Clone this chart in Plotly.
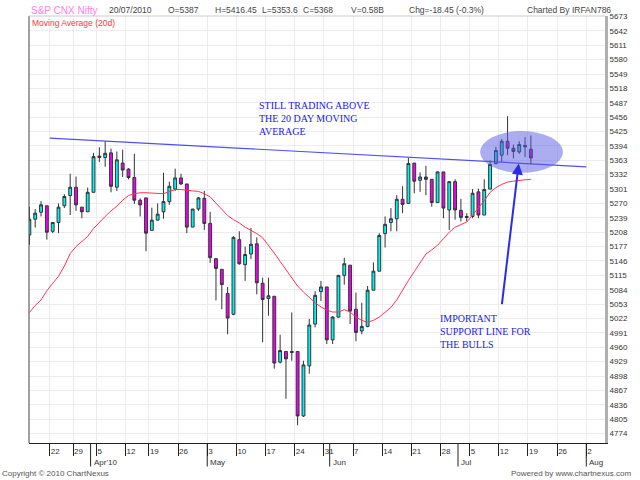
import plotly.graph_objects as go

# --- data (S&P CNX Nifty, daily) ---
dates = [
    "2010-03-17", "2010-03-18", "2010-03-19", "2010-03-22", "2010-03-23", "2010-03-25",
    "2010-03-26", "2010-03-29", "2010-03-30", "2010-03-31", "2010-04-01", "2010-04-05",
    "2010-04-06", "2010-04-07", "2010-04-08", "2010-04-09", "2010-04-12", "2010-04-13",
    "2010-04-15", "2010-04-16", "2010-04-19", "2010-04-20", "2010-04-21", "2010-04-22",
    "2010-04-23", "2010-04-26", "2010-04-27", "2010-04-28", "2010-04-29", "2010-04-30",
    "2010-05-03", "2010-05-04", "2010-05-05", "2010-05-06", "2010-05-07", "2010-05-10",
    "2010-05-11", "2010-05-12", "2010-05-13", "2010-05-14", "2010-05-17", "2010-05-18",
    "2010-05-19", "2010-05-20", "2010-05-21", "2010-05-24", "2010-05-25", "2010-05-26",
    "2010-05-27", "2010-05-28", "2010-05-31", "2010-06-01", "2010-06-02", "2010-06-03",
    "2010-06-04", "2010-06-07", "2010-06-08", "2010-06-09", "2010-06-10", "2010-06-11",
    "2010-06-14", "2010-06-15", "2010-06-16", "2010-06-17", "2010-06-18", "2010-06-21",
    "2010-06-22", "2010-06-23", "2010-06-24", "2010-06-25", "2010-06-28", "2010-06-29",
    "2010-06-30", "2010-07-01", "2010-07-02", "2010-07-05", "2010-07-06", "2010-07-07",
    "2010-07-08", "2010-07-09", "2010-07-12", "2010-07-13", "2010-07-14", "2010-07-15",
    "2010-07-16", "2010-07-19", "2010-07-20",
]
opens = [
    5202, 5236, 5251, 5265, 5210, 5229, 5265, 5287, 5305, 5262, 5252, 5294,
    5372, 5369, 5379, 5305, 5357, 5344, 5326, 5277, 5282, 5212, 5234, 5252,
    5274, 5301, 5325, 5312, 5219, 5258, 5281, 5227, 5151, 5128, 5076, 5031,
    5192, 5138, 5161, 5183, 5098, 5065, 5070, 4928, 4951, 4951, 4951, 4812,
    4920, 5010, 5080, 5090, 4976, 5025, 5115, 5137, 5042, 4995, 5005, 5083,
    5124, 5205, 5229, 5237, 5279, 5270, 5357, 5320, 5327, 5322, 5272, 5338,
    5256, 5317, 5255, 5242, 5242, 5295, 5245, 5301, 5356, 5374, 5404, 5389,
    5381, 5395, 5387,
]
highs = [
    5263, 5258, 5275, 5265, 5229, 5270, 5290, 5334, 5328, 5262, 5304, 5379,
    5391, 5404, 5388, 5382, 5386, 5346, 5377, 5281, 5282, 5261, 5270, 5336,
    5317, 5345, 5334, 5312, 5258, 5284, 5297, 5252, 5151, 5128, 5090, 5199,
    5210, 5177, 5217, 5197, 5110, 5110, 5070, 4987, 4951, 5035, 4951, 4931,
    5021, 5081, 5103, 5090, 5027, 5116, 5153, 5137, 5078, 5056, 5092, 5143,
    5206, 5242, 5260, 5288, 5307, 5368, 5357, 5337, 5351, 5322, 5339, 5338,
    5317, 5322, 5280, 5249, 5301, 5302, 5322, 5363, 5392, 5409, 5458, 5397,
    5404, 5413, 5416.45,
]
lows = [
    5181, 5218, 5242, 5192, 5206, 5206, 5260, 5245, 5254, 5238, 5252, 5294,
    5359, 5349, 5294, 5297, 5327, 5322, 5269, 5242, 5167, 5212, 5234, 5237,
    5267, 5297, 5310, 5206, 5219, 5254, 5213, 5142, 5061, 5042, 4988, 5029,
    5138, 5103, 5150, 5074, 4971, 5028, 4914, 4925, 4849, 4931, 4792, 4810,
    4903, 5003, 5060, 4967, 4967, 5024, 5095, 5010, 4973, 4988, 5003, 5083,
    5124, 5175, 5210, 5210, 5249, 5270, 5292, 5295, 5288, 5263, 5272, 5238,
    5213, 5235, 5231, 5231, 5238, 5238, 5245, 5301, 5354, 5359, 5374, 5367,
    5377, 5370, 5353.6,
]
closes = [
    5236, 5249, 5267, 5208, 5229, 5262, 5285, 5305, 5267, 5252, 5294, 5371,
    5369, 5378, 5307, 5364, 5342, 5326, 5277, 5267, 5206, 5234, 5247, 5274,
    5307, 5325, 5312, 5219, 5258, 5282, 5227, 5153, 5130, 5095, 5023, 5197,
    5140, 5160, 5182, 5099, 5063, 5071, 4926, 4953, 4935, 4949, 4812, 4922,
    5008, 5072, 5090, 4976, 5025, 5115, 5140, 5038, 4992, 5005, 5083, 5124,
    5201, 5225, 5237, 5279, 5268, 5356, 5318, 5327, 5322, 5272, 5338, 5260,
    5317, 5256, 5240, 5240, 5292, 5245, 5300, 5354, 5384, 5404, 5389, 5382,
    5397, 5392, 5368,
]
ma20 = [
    5035, 5050, 5062, 5082, 5098, 5113, 5135, 5162, 5177, 5188, 5199, 5216,
    5230, 5242, 5254, 5264, 5277, 5287, 5291, 5293, 5293, 5292, 5291, 5291,
    5296, 5300, 5300, 5298, 5297, 5296, 5291, 5284, 5271, 5258, 5244, 5235,
    5228, 5219, 5212, 5205, 5196, 5180, 5163, 5145, 5128, 5109, 5092, 5079,
    5067, 5056, 5047, 5040, 5036, 5036, 5041, 5036, 5025, 5018, 5014, 5018,
    5025, 5035, 5046, 5062, 5084, 5104, 5123, 5143, 5161, 5170, 5180, 5194,
    5208, 5219, 5224, 5230, 5245, 5260, 5276, 5294, 5304, 5311, 5316, 5318,
    5320, 5321, 5322,
]

# hand-drawn support line (two end points)
trend_dates = ["2010-03-22 12:00", "2010-08-02 12:00"]
trend_values = [5411, 5349]

holidays = ["2010-03-24", "2010-04-02", "2010-04-14"]

week_ticks = ["2010-03-22", "2010-03-29", "2010-04-05", "2010-04-12", "2010-04-19",
              "2010-04-26", "2010-05-03", "2010-05-10", "2010-05-17", "2010-05-24",
              "2010-05-31", "2010-06-07", "2010-06-14", "2010-06-21", "2010-06-28",
              "2010-07-05", "2010-07-12", "2010-07-19", "2010-07-26", "2010-08-02"]
week_labels = ["22", "29", "5", "12", "19", "26", "3", "10", "17", "24", "31",
               "7", "14", "21", "28", "5", "12", "19", "26", "2"]
month_ticks = ["2010-04-01", "2010-05-03", "2010-06-01", "2010-07-01", "2010-08-02"]
month_labels = ["Apr'10", "May", "Jun", "Jul", "Aug"]

price_ticks = [4774, 4805, 4836, 4867, 4898, 4929, 4960, 4991, 5022, 5053,
               5084, 5115, 5146, 5177, 5208, 5239, 5270, 5301, 5332, 5363,
               5394, 5425, 5456, 5487, 5518, 5549, 5580, 5611, 5642, 5673]

header = [("20/07/2010", 108), ("O=5387", 167), ("H=5416.45", 215), ("L=5353.6", 262),
          ("C=5368", 304), ("V=0.58B", 352), ("Chg=-18.45 (-0.3%)", 411),
          ("Charted By IRFAN786", 530)]

FONT = "Arial, Liberation Sans, sans-serif"
L, R, T, B = 29, 29, 13, 37
PW = 640 - L - R
PH = 480 - T - B


def px_x(p):
    return (p - L) / PW


def px_y(p):
    return (480 - B - p) / PH


fig = go.Figure()

fig.add_trace(go.Scatter(
    x=dates, y=ma20, mode="lines",
    line=dict(color="#ff3355", width=1), hoverinfo="skip",
))
fig.add_trace(go.Candlestick(
    x=dates, open=opens, high=highs, low=lows, close=closes,
    increasing=dict(fillcolor="#00f2f2", line=dict(color="#333333", width=1)),
    decreasing=dict(fillcolor="#f000f0", line=dict(color="#333333", width=1)),
))
fig.add_trace(go.Scatter(
    x=trend_dates, y=trend_values, mode="lines",
    line=dict(color="#5050ee", width=1.2), hoverinfo="skip",
))

shapes = [
    # highlight ellipse
    dict(type="circle", xref="x", yref="y",
         x0="2010-07-07 07:00", x1="2010-07-27 12:00", y0=5336, y1=5426,
         fillcolor="rgba(90,90,225,0.5)", line=dict(width=0), layer="above"),
    # left and top frame
    dict(type="line", xref="paper", yref="paper", x0=0, x1=0, y0=0, y1=1,
         line=dict(color="#444444", width=1)),
    dict(type="line", xref="paper", yref="paper", x0=0, x1=1, y0=1, y1=1,
         line=dict(color="#cccccc", width=1)),
]
for d in month_ticks:
    shapes.append(dict(type="line", xref="x", yref="paper",
                       x0=d + " 12:00", x1=d + " 12:00", y0=0, y1=-0.055,
                       line=dict(color="#222222", width=1)))

annotations = [
    dict(text="S&P CNX Nifty", x=px_x(29), y=px_y(7), xref="paper", yref="paper",
         xanchor="left", yanchor="middle", showarrow=False,
         font=dict(family=FONT, size=10, color="#ff80e8")),
    dict(text="Moving Average (20d)", x=px_x(30), y=px_y(20), xref="paper", yref="paper",
         xanchor="left", yanchor="middle", showarrow=False,
         font=dict(family=FONT, size=8.5, color="#ff3344")),
    dict(text="STILL TRADING ABOVE<br>THE 20 DAY MOVING<br>AVERAGE",
         x=px_x(259), y=px_y(96), xref="paper", yref="paper",
         xanchor="left", yanchor="top", align="left", showarrow=False,
         font=dict(family="Liberation Serif, Times New Roman, serif", size=10, color="#2020e0")),
    dict(text="IMPORTANT<br>SUPPORT LINE FOR<br>THE BULLS",
         x=px_x(442), y=px_y(310), xref="paper", yref="paper",
         xanchor="left", yanchor="top", align="left", showarrow=False,
         font=dict(family="Liberation Serif, Times New Roman, serif", size=10, color="#2020e0")),
    dict(text="", x="2010-07-15 22:00", y=5356, xref="x", yref="y",
         showarrow=True, ax=-17, ay=142, arrowcolor="#2a2af0",
         arrowwidth=2, arrowhead=2, arrowsize=1.1),
    dict(text="Copyright © 2010 ChartNexus", x=px_x(0), y=px_y(474),
         xref="paper", yref="paper", xanchor="left", yanchor="middle", showarrow=False,
         font=dict(family=FONT, size=8, color="#555555")),
    dict(text="Powered by www.chartnexus.com", x=px_x(639), y=px_y(474),
         xref="paper", yref="paper", xanchor="right", yanchor="middle", showarrow=False,
         font=dict(family=FONT, size=8, color="#555555")),
]
for text, xp in header:
    annotations.append(dict(text=text, x=px_x(xp), y=px_y(7), xref="paper", yref="paper",
                            xanchor="left", yanchor="middle", showarrow=False,
                            font=dict(family=FONT, size=8.5, color="#444444")))
for d, lab in zip(month_ticks, month_labels):
    annotations.append(dict(text=lab, x=d + " 12:00", y=px_y(463), xref="x", yref="paper",
                            xanchor="left", yanchor="middle", xshift=1, showarrow=False,
                            font=dict(family=FONT, size=8, color="#333333")))

fig.update_layout(
    width=640, height=480,
    margin=dict(l=L, r=R, t=T, b=B),
    paper_bgcolor="white", plot_bgcolor="white",
    showlegend=False,
    font=dict(family=FONT, size=8, color="#333333"),
    shapes=shapes,
    annotations=annotations,
    xaxis=dict(
        type="date",
        range=["2010-03-16 22:30", "2010-08-05 17:00"],
        rangebreaks=[dict(bounds=["sat", "mon"]), dict(values=holidays)],
        rangeslider=dict(visible=False),
        tickvals=[d + " 12:00" for d in week_ticks],
        ticktext=week_labels,
        ticks="outside", ticklen=12, tickcolor="#222222",
        ticklabelposition="outside right",
        showgrid=True, gridcolor="#ececec",
        showline=True, linecolor="#222222", linewidth=1,
        zeroline=False, fixedrange=True,
    ),
    yaxis=dict(
        side="right",
        range=[4753.7, 5674],
        tickvals=price_ticks,
        ticks="",
        showgrid=True, gridcolor="#ececec",
        showline=True, linecolor="#b0b0b0", linewidth=3,
        zeroline=False,
    ),
)

fig.write_html(
    "out.html",
    config={"displayModeBar": False},
    post_script="document.body.style.margin='0';document.body.style.overflow='hidden';",
)
